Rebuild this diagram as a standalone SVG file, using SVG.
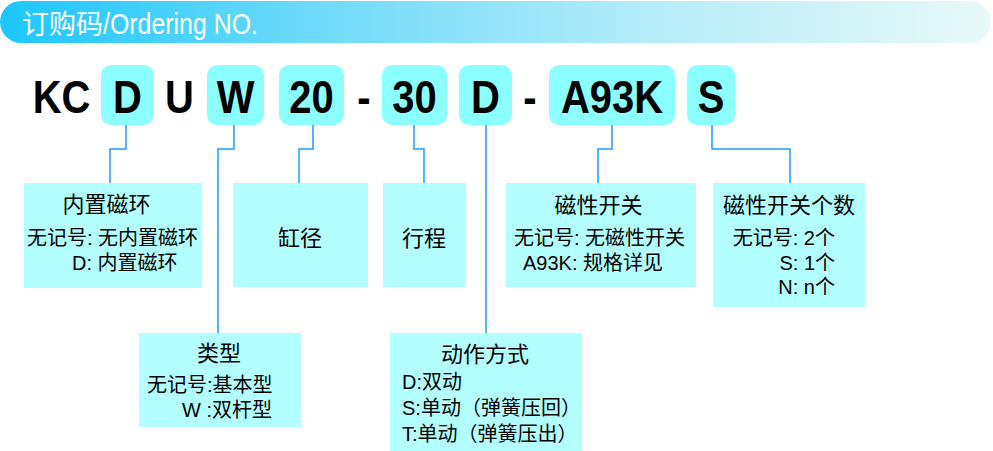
<svg xmlns="http://www.w3.org/2000/svg" width="993" height="451" viewBox="0 0 993 451">
<defs>
<linearGradient id="hg" x1="0" y1="0" x2="1" y2="0">
<stop offset="0" stop-color="#1cc6ff"/>
<stop offset="0.3" stop-color="#6ad9fa"/>
<stop offset="0.65" stop-color="#b4ecf9"/>
<stop offset="1" stop-color="#e8f9f8"/>
</linearGradient>
<style>
.code{font-family:"Liberation Sans","Noto Sans CJK SC",sans-serif;font-weight:bold;font-size:47px;fill:#000;text-anchor:middle}
.cbox{fill:#8cffff}
.dbox{fill:#b3ffff}
.t{font-family:"Liberation Sans","Noto Sans CJK SC",sans-serif;font-size:22px;fill:#000;text-anchor:middle}
.b{font-family:"Liberation Sans","Noto Sans CJK SC",sans-serif;font-size:20px;fill:#000}
.h{font-family:"Liberation Sans","Noto Sans CJK SC",sans-serif;fill:#fff}
.conn{fill:none;stroke:#1a9cff;stroke-width:1.5}
</style>
</defs>
<rect width="993" height="451" fill="#fff"/>
<g id="header">
<rect x="0" y="1" width="991" height="42" rx="21" ry="21" fill="url(#hg)"/>
<text class="h" x="22" y="34" font-size="27" textLength="81" lengthAdjust="spacingAndGlyphs">订购码</text>
<text class="h" x="103" y="34" font-size="29" textLength="155" lengthAdjust="spacingAndGlyphs">/Ordering NO.</text>
</g>
<g id="code">
<g id="kc"><text class="code" transform="translate(61.5,113) scale(0.85,1)">KC</text></g>
<g id="code-d"><rect class="cbox" x="101" y="65" width="53" height="60" rx="10"/><text class="code" transform="translate(127.5,113) scale(0.85,1)">D</text></g>
<g id="u"><text class="code" transform="translate(179.5,113) scale(0.85,1)">U</text></g>
<g id="code-w"><rect class="cbox" x="207" y="65" width="57" height="60" rx="10"/><text class="code" transform="translate(235.5,113) scale(0.85,1)">W</text></g>
<g id="code-20"><rect class="cbox" x="279" y="65" width="65" height="60" rx="10"/><text class="code" transform="translate(311.5,113) scale(0.85,1)">20</text></g>
<g id="dash1"><text class="code" transform="translate(364,113) scale(0.85,1)">-</text></g>
<g id="code-30"><rect class="cbox" x="382" y="65" width="65" height="60" rx="10"/><text class="code" transform="translate(414.5,113) scale(0.85,1)">30</text></g>
<g id="code-d2"><rect class="cbox" x="459" y="65" width="53" height="60" rx="10"/><text class="code" transform="translate(485.5,113) scale(0.85,1)">D</text></g>
<g id="dash2"><text class="code" transform="translate(530,113) scale(0.85,1)">-</text></g>
<g id="code-a93k"><rect class="cbox" x="549" y="65" width="126" height="60" rx="10"/><text class="code" transform="translate(612,113) scale(0.85,1)">A93K</text></g>
<g id="code-s"><rect class="cbox" x="687" y="65" width="48" height="60" rx="10"/><text class="code" transform="translate(711,113) scale(0.85,1)">S</text></g>
</g>
<g id="connectors">
<polyline class="conn" points="126,125 126,149 110,149 110,183"/>
<polyline class="conn" points="234,125 234,149 218,149 218,333"/>
<polyline class="conn" points="313,125 313,149 299,149 299,183"/>
<polyline class="conn" points="414,125 414,149 424,149 424,183"/>
<polyline class="conn" points="486,125 486,333"/>
<polyline class="conn" points="612,125 612,149 598,149 598,183"/>
<polyline class="conn" points="712,125 712,149 790,149 790,183"/>
</g>
<g id="node-magring">
<rect class="dbox" x="24" y="183" width="178" height="105"/>
<text class="t" x="106.5" y="212">内置磁环</text>
<text class="b" x="27" y="245">无记号: 无内置磁环</text>
<text class="b" x="72" y="270">D: 内置磁环</text>
</g>
<g id="node-bore">
<rect class="dbox" x="233" y="183" width="135" height="104"/>
<text class="t" x="300" y="246">缸径</text>
</g>
<g id="node-stroke">
<rect class="dbox" x="383" y="183" width="83" height="104"/>
<text class="t" x="424" y="246">行程</text>
</g>
<g id="node-switch">
<rect class="dbox" x="506" y="183" width="190" height="104"/>
<text class="t" x="598.5" y="213">磁性开关</text>
<text class="b" x="514" y="245">无记号: 无磁性开关</text>
<text class="b" x="523" y="270">A93K: 规格详见</text>
</g>
<g id="node-switchcount">
<rect class="dbox" x="713" y="183" width="152" height="124"/>
<text class="t" x="789" y="213">磁性开关个数</text>
<text class="b" x="835" y="245" text-anchor="end">无记号: 2个</text>
<text class="b" x="835" y="270" text-anchor="end">S: 1个</text>
<text class="b" x="835" y="294" text-anchor="end">N: n个</text>
</g>
<g id="node-type">
<rect class="dbox" x="139" y="333" width="162" height="94"/>
<text class="t" x="219" y="361">类型</text>
<text class="b" x="147" y="392">无记号:基本型</text>
<text class="b" x="272" y="417" text-anchor="end">W :双杆型</text>
</g>
<g id="node-action">
<rect class="dbox" x="390" y="333" width="192" height="118"/>
<text class="t" x="485" y="362">动作方式</text>
<text class="b" x="402" y="389">D:双动</text>
<text class="b" x="402" y="415">S:单动（弹簧压回）</text>
<text class="b" x="402" y="441">T:单动（弹簧压出）</text>
</g>
</svg>
